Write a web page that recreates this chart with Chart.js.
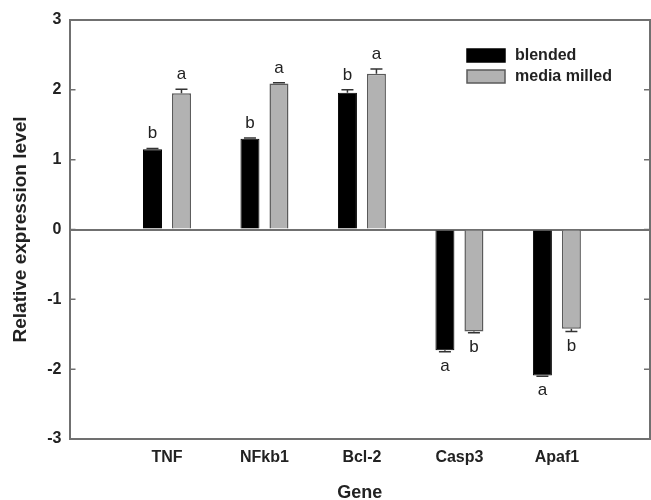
<!DOCTYPE html>
<html>
<head>
<meta charset="utf-8">
<script src="https://cdn.jsdelivr.net/npm/chart.js@4"></script>
<style>
html,body{margin:0;padding:0;background:#fff;}
#wrap{width:651px;height:500px;}
</style>
</head>
<body>
<div id="wrap"><canvas id="c" width="651" height="500"></canvas></div>
<script>
const genes = ['TNF', 'NFkb1', 'Bcl-2', 'Casp3', 'Apaf1'];
const blended = [1.15, 1.30, 1.96, -1.73, -2.09];
const blendedErr = [0.01, 0.01, 0.04, 0.02, 0.01];
const blendedSig = ['b', 'b', 'b', 'a', 'a'];
const milled = [1.95, 2.09, 2.23, -1.46, -1.42];
const milledErr = [0.06, 0.01, 0.07, 0.02, 0.04];
const milledSig = ['a', 'a', 'a', 'b', 'b'];
const yTicks = [-3, -2, -1, 0, 1, 2, 3];

const AXIS = '#707070';
const FONT = "'Liberation Sans', Arial, sans-serif";

function pts(vals){ return vals.map((v, i) => ({x: i + 1, y: v})); }

const overlay = {
  id: 'overlay',
  afterDatasetsDraw(chart) {
    const ctx = chart.ctx, ca = chart.chartArea;
    const ys = chart.scales.y;
    ctx.save();
    ctx.strokeStyle = AXIS; ctx.lineWidth = 2;
    ctx.beginPath();
    ctx.moveTo(ca.left, ca.top); ctx.lineTo(ca.right, ca.top); ctx.lineTo(ca.right, ca.bottom);
    ctx.stroke();
    ctx.lineWidth = 1.5;
    yTicks.forEach(v => {
      if (v === yTicks[0] || v === yTicks[yTicks.length - 1]) return;
      const y = ys.getPixelForValue(v);
      ctx.beginPath();
      ctx.moveTo(ca.left, y); ctx.lineTo(ca.left + 6, y);
      ctx.moveTo(ca.right, y); ctx.lineTo(ca.right - 6, y);
      ctx.stroke();
    });
    const errs = [blendedErr, milledErr];
    const sigs = [blendedSig, milledSig];
    chart.data.datasets.forEach((ds, di) => {
      const meta = chart.getDatasetMeta(di);
      meta.data.forEach((bar, i) => {
        const v = ds.data[i].y;
        const e = errs[di][i];
        const x = bar.x;
        const y0 = ys.getPixelForValue(v);
        const y1 = ys.getPixelForValue(v >= 0 ? v + e : v - e);
        ctx.strokeStyle = '#333'; ctx.lineWidth = 1.5;
        ctx.beginPath();
        ctx.moveTo(x, y0); ctx.lineTo(x, y1);
        ctx.moveTo(x - 6, y1); ctx.lineTo(x + 6, y1);
        ctx.stroke();
        ctx.fillStyle = '#222';
        ctx.font = '17px ' + FONT;
        ctx.textAlign = 'center';
        if (v >= 0) {
          ctx.textBaseline = 'alphabetic';
          ctx.fillText(sigs[di][i], x, y1 - 10);
        } else {
          ctx.textBaseline = 'top';
          ctx.fillText(sigs[di][i], x, y1 + 6);
        }
      });
    });
    const lx = 467, ly = [49, 70], bw = 38, bh = 13;
    chart.data.datasets.forEach((ds, di) => {
      ctx.fillStyle = ds.backgroundColor;
      ctx.fillRect(lx, ly[di], bw, bh);
      ctx.strokeStyle = ds.borderColor; ctx.lineWidth = 1.5;
      ctx.strokeRect(lx, ly[di], bw, bh);
      ctx.fillStyle = '#222';
      ctx.font = 'bold 16px ' + FONT;
      ctx.textAlign = 'left'; ctx.textBaseline = 'middle';
      ctx.fillText(ds.label, lx + 48, ly[di] + bh / 2 + 0.5);
    });
    ctx.restore();
  }
};

new Chart(document.getElementById('c'), {
  type: 'bar',
  data: {
    datasets: [
      {label: 'blended', data: pts(blended), backgroundColor: '#000000', borderColor: '#000000', borderWidth: 1},
      {label: 'media milled', data: pts(milled), backgroundColor: '#b2b2b2', borderColor: '#5a5a5a', borderWidth: 1.5}
    ]
  },
  options: {
    responsive: false,
    animation: false,
    devicePixelRatio: 1,
    layout: {padding: {top: 20, right: 1, left: 0, bottom: 0}},
    categoryPercentage: 0.595,
    barPercentage: 0.655,
    plugins: {legend: {display: false}, tooltip: {enabled: false}},
    scales: {
      x: {
        type: 'linear',
        offset: false,
        min: 0,
        max: 5.955,
        afterBuildTicks: s => { s.ticks = genes.map((g, i) => ({value: i + 1})); },
        afterFit: s => { s.height = 61; },
        grid: {display: false, drawTicks: false, offset: false},
        border: {color: AXIS, width: 2},
        ticks: {
          autoSkip: false, maxRotation: 0, padding: 9,
          color: '#222', font: {family: FONT, size: 16, weight: 'bold'},
          callback: v => genes[v - 1] || ''
        },
        title: {display: true, text: 'Gene', color: '#222', font: {family: FONT, size: 18, weight: 'bold', lineHeight: 0.8}, padding: 0}
      },
      y: {
        min: -3,
        max: 3,
        afterBuildTicks: s => { s.ticks = yTicks.map(v => ({value: v})); },
        afterFit: s => { s.width = 69.5; },
        grid: {
          drawTicks: false,
          color: c => (c.tick && c.tick.value === 0) ? AXIS : 'rgba(0,0,0,0)',
          lineWidth: 2
        },
        border: {color: AXIS, width: 2},
        ticks: {padding: 8, color: '#222', font: {family: FONT, size: 16, weight: 'bold'}},
        title: {display: true, text: 'Relative expression level', color: '#222', font: {family: FONT, size: 19, weight: 'bold'}, padding: {top: 9, bottom: 0}}
      }
    }
  },
  plugins: [overlay]
});
</script>
</body>
</html>
